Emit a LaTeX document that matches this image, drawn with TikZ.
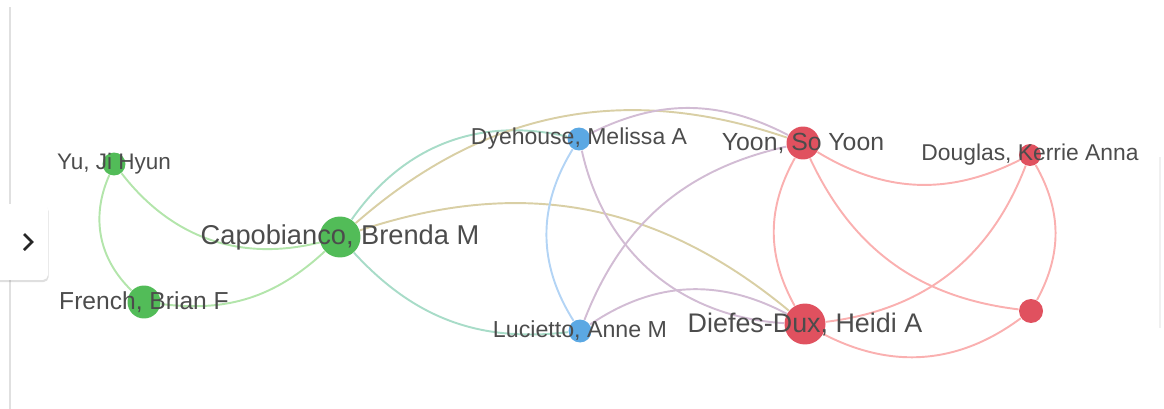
\documentclass[tikz,border=0pt]{standalone}
\usepackage{fontspec}
\setmainfont{Liberation Sans}
\usetikzlibrary{backgrounds,shadows}
\definecolor{gnode}{HTML}{52BC58}
\definecolor{bnode}{HTML}{5BA8E3}
\definecolor{rnode}{HTML}{E0515F}
\definecolor{gline}{HTML}{B3E5AB}
\definecolor{bline}{HTML}{B3D4F5}
\definecolor{rline}{HTML}{FAB0B0}
\definecolor{tline}{HTML}{A8DCC8}
\definecolor{oline}{HTML}{D9CFA5}
\definecolor{pline}{HTML}{D2BCD4}
\definecolor{txt}{HTML}{4C4C4C}
\begin{document}
\begin{tikzpicture}[x=0.02cm,y=-0.02cm,semithick,
dot/.style={circle,inner sep=0pt,minimum size=#1},
gdot/.style={dot=#1,fill=gnode},
bdot/.style={dot=#1,fill=bnode},
rdot/.style={dot=#1,fill=rnode},
edge/.style={line width=1.1pt,color=#1},
lbl/.style={text=txt,inner sep=0pt,font=\fontsize{#1}{#1}\selectfont}]
\useasboundingbox (0,0) rectangle (1164,409);
\draw[black!12] (10,7)--(10,409);
\draw[black!6] (1160,157)--(1160,328);
\node[rectangle,rounded corners=3pt,fill=white,minimum width=1.16cm,minimum height=1.52cm,
drop shadow={opacity=0.25,shadow xshift=0.4pt,shadow yshift=-1.2pt}] (T) at (19,242) {};
\draw[line width=1.6pt,black!85,line join=miter] (24,234)--(32,242)--(24,250);
\node[gdot=0.46cm] (Y) at (114,164) {};
\node[gdot=0.66cm] (F) at (144,302) {};
\node[gdot=0.82cm] (C) at (340,237) {};
\node[bdot=0.46cm] (D) at (579,139) {};
\node[bdot=0.46cm] (L) at (580,331) {};
\node[rdot=0.66cm] (S) at (803,143) {};
\node[rdot=0.44cm] (K) at (1030,155) {};
\node[rdot=0.82cm] (H) at (805,324) {};
\node[rdot=0.48cm] (U) at (1031,311) {};
\begin{scope}[on background layer]
\draw[edge=gline](Y)to[bend right=33](C);
\draw[edge=gline](Y)to[bend right=35](F);
\draw[edge=gline](F)to[bend right=25](C);
\draw[edge=tline](C)to[bend left=34](D);
\draw[edge=oline](C)to[bend left=30](S);
\draw[edge=oline](C)to[bend left=29](H);
\draw[edge=tline](C)to[bend right=27](L);
\draw[edge=bline](D)to[bend right=32](L);
\draw[edge=pline](D)to[bend left=27](S);
\draw[edge=pline](D)to[bend right=37](H);
\draw[edge=pline](L)to[bend left=28](S);
\draw[edge=pline](L)to[bend left=31](H);
\draw[edge=rline](S)to[bend right=29](H);
\draw[edge=rline](S)to[bend right=29](K);
\draw[edge=rline](S)to[bend right=29](U);
\draw[edge=rline](H)to[bend right=31](K);
\draw[edge=rline](K)to[bend left=29](U);
\draw[edge=rline](H)to[bend right=32](U);
\end{scope}
\node[lbl=12.8] (Yt) at (Y) {Yu, Ji Hyun};
\node[lbl=14] (Ft) at (F) {French, Brian F};
\node[lbl=15.5] (Ct) at (C) {Capobianco, Brenda M};
\node[lbl=13.1] (Dt) at (D) {Dyehouse, Melissa A};
\node[lbl=13.2] (Lt) at (L) {Lucietto, Anne M};
\node[lbl=14.1] (St) at (S) {Yoon, So Yoon};
\node[lbl=13] (Kt) at (K) {Douglas, Kerrie Anna};
\node[lbl=15.3] (Ht) at (H) {Diefes-Dux, Heidi A};
\end{tikzpicture}
\end{document}
